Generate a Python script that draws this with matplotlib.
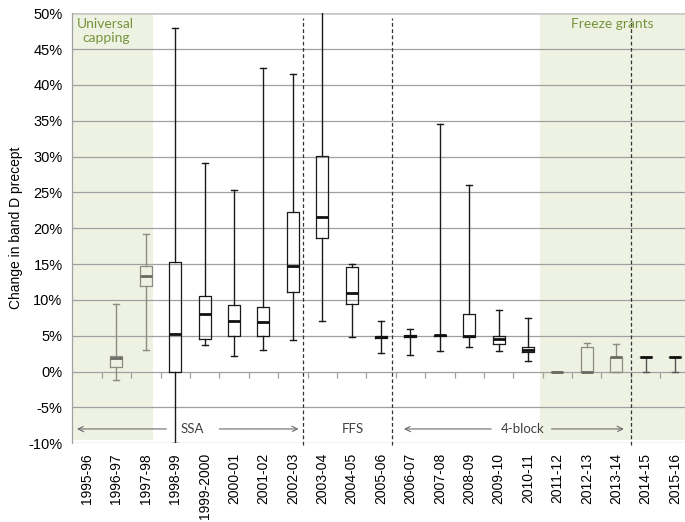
import matplotlib
matplotlib.use("Agg")
import matplotlib.pyplot as plt
import numpy as np

years = ["1995-96", "1996-97", "1997-98", "1998-99", "1999-2000", "2000-01", "2001-02",
         "2002-03", "2003-04", "2004-05", "2005-06", "2006-07", "2007-08", "2008-09",
         "2009-10", "2010-11", "2011-12", "2012-13", "2013-14", "2014-15", "2015-16"]

# None for 1995-96 (no data)
whis_lo = [None, -1.1, 3.0, -10.0, 3.7, 2.15, 3.0, 4.4, 7.1, 4.9, 2.6, 2.3, 2.9, 3.5, 2.9, 1.5, 0.0, 0.0, 0.0, 0.0, 0.0]
q1      = [None, 0.6, 11.9, 0.0, 4.5, 5.0, 5.0, 11.1, 18.6, 9.4, 4.65, 4.9, 5.0, 4.9, 3.9, 2.7, 0.0, 0.0, 0.0, 2.0, 2.0]
median  = [None, 1.9, 13.4, 5.3, 8.05, 7.0, 6.9, 14.8, 21.6, 11.0, 4.8, 5.0, 5.05, 5.0, 4.5, 3.0, 0.0, 0.0, 2.0, 2.0, 2.0]
q3      = [None, 2.2, 14.8, 15.3, 10.5, 9.3, 9.0, 22.3, 30.1, 14.6, 5.0, 5.1, 5.1, 8.1, 5.0, 3.4, 0.0, 3.5, 2.05, 2.0, 2.0]
whis_hi = [None, 9.4, 19.2, 48.0, 29.1, 25.4, 42.3, 41.5, 55.0, 15.0, 7.0, 5.9, 34.6, 26.0, 8.65, 7.45, 0.0, 3.96, 3.8, 2.0, 2.0]

yticks = list(range(-10, 51, 5))
ytick_labels = [f"{v}%" for v in yticks]

period_lines = [7.84, 10.86, 18.99]
shade_spans = [(0.0, 2.75), (15.9, 21.0)]
shade_texts = [("Universal\ncapping", 1.14), ("Freeze grants", 18.36)]
period_labels = [("SSA", 4.09), ("FFS", 9.55), ("4-block", 15.33)]

grey_idx = {1, 2, 16, 17, 18}
dark_idx = {19, 20}

fig = plt.figure(figsize=(6.85, 5.22), dpi=100)
ax = fig.add_axes([72.3 / 685, 78.7 / 522, 617.4 / 685, 430.0 / 522])
ax.set_xlim(0, 21)
ax.set_ylim(-10, 50)

# shading
for x0, x1 in shade_spans:
    ax.fill_between([x0, x1], -9.6, 50, color="#EEF2E2", zorder=0, lw=0)

# grid
for v in yticks:
    ax.axhline(v, color="#a0a0a0", lw=0.9, zorder=1)
ax.axhline(50, color="#c8c8c8", lw=1.8, zorder=1)

# category boundary ticks on the 0% line
bounds = np.arange(1, 21)
ax.vlines(bounds, -0.9, 0, color="#a0a0a0", lw=0.9, zorder=1)

# period lines
for x in period_lines:
    ax.vlines(x, -10.3, 49.3, color="#333333", lw=0.9, linestyles=(0, (3, 2)), zorder=2,
              clip_on=False)

# boxes
stats, pos = [], []
for i in range(len(years)):
    if median[i] is None:
        continue
    stats.append(dict(med=median[i], q1=q1[i], q3=q3[i], whislo=whis_lo[i], whishi=whis_hi[i]))
    pos.append(i + 0.5)
res = ax.bxp(stats, positions=pos, widths=0.41, capwidths=0.2, showfliers=False,
             patch_artist=False, manage_ticks=False, zorder=3)
k = 0
for i in range(len(years)):
    if median[i] is None:
        continue
    if i in grey_idx:
        c = "#8c8c82"
    elif i in dark_idx:
        c = "#555555"
    else:
        c = "#1a1a1a"
    res["boxes"][k].set(color=c, lw=0.9)
    for w in res["whiskers"][2 * k:2 * k + 2]:
        w.set(color=c, lw=1.0)
    for cp in res["caps"][2 * k:2 * k + 2]:
        cp.set(color=c, lw=1.0)
    res["medians"][k].set(color="#111111" if i not in grey_idx else "#6a6a62", lw=2.0)
    k += 1

# texts
for txt, x in shade_texts:
    ax.text(x, 49.3, txt, color="#77933C", fontsize=10, family="Lato", ha="center", va="top",
            linespacing=1.2, zorder=4)
for txt, x in period_labels:
    ax.text(x, -8.0, txt, color="#404040", fontsize=9.5, family="Lato", ha="center", va="center",
            zorder=4)

arrow_specs = [((0.16, -8.0), (3.2, -8.0)), ((7.7, -8.0), (5.0, -8.0)),
               ((11.28, -8.0), (14.25, -8.0)), ((18.76, -8.0), (16.3, -8.0))]
for (xy, xytext) in arrow_specs:
    ax.annotate("", xy=xy, xytext=xytext,
                arrowprops=dict(arrowstyle="->", color="#707070", lw=0.8, linestyle=(0, (1, 0.6)),
                                shrinkA=0, shrinkB=0), zorder=4)

ax.set_yticks(yticks)
ax.set_yticklabels(ytick_labels, fontsize=10.5, family="Liberation Sans")
ax.set_xticks(np.arange(len(years)) + 0.5)
ax.set_xticklabels(years, rotation=90, fontsize=10, family="Liberation Sans")
ax.tick_params(axis="both", length=0, pad=7)
ax.tick_params(axis="x", pad=7)
for s in ["top", "right", "bottom"]:
    ax.spines[s].set_visible(False)
ax.spines["left"].set_color("#a0a0a0")
ax.spines["left"].set_linewidth(0.9)
ax.set_ylabel("Change in band D precept", fontsize=10, family="Liberation Sans", labelpad=4)

fig.savefig("out.png", dpi=100)
